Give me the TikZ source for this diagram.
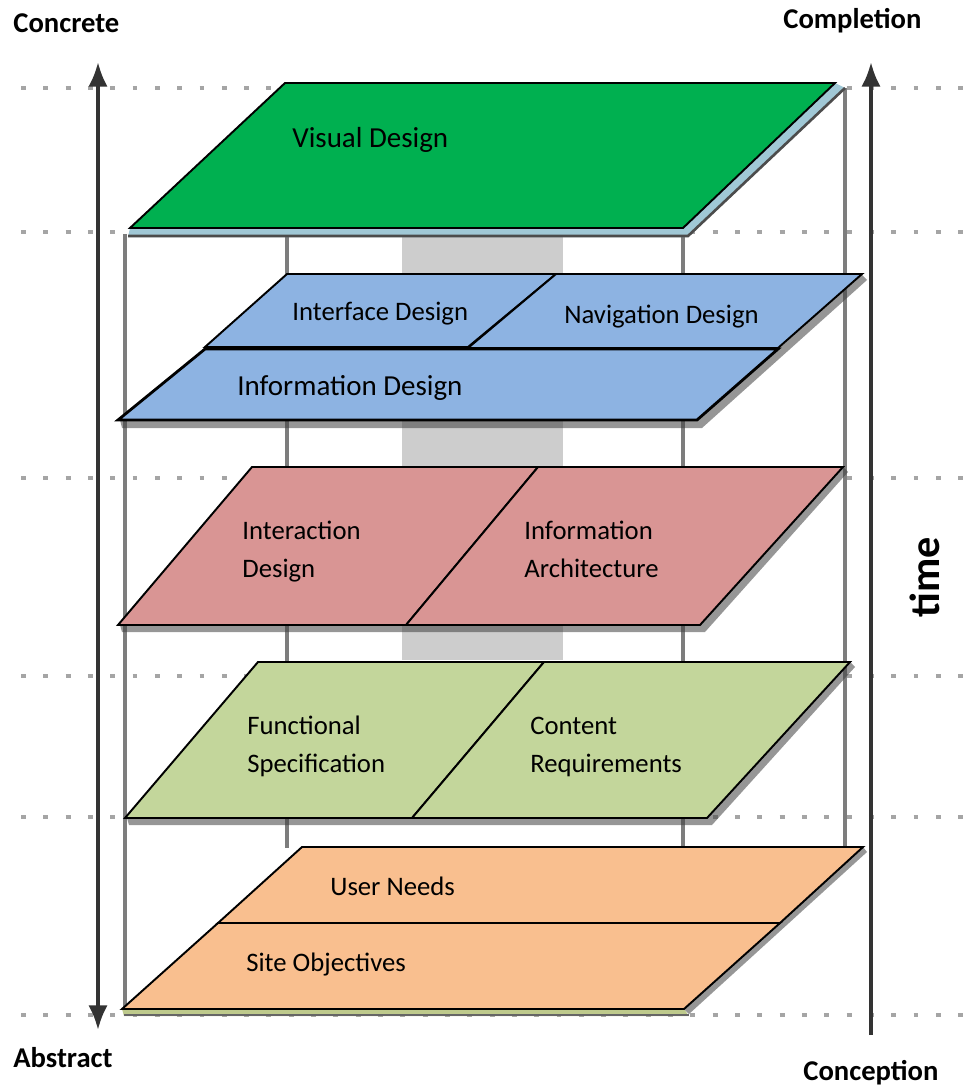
\documentclass[tikz,border=0pt]{standalone}
\usepackage{fontspec}
\setmainfont{Carlito}
\usepackage{tikz}
\usetikzlibrary{arrows.meta,positioning}
\definecolor{plgreen}{RGB}{0,176,80}
\definecolor{plblue}{RGB}{141,179,226}
\definecolor{plred}{RGB}{217,149,148}
\definecolor{plolive}{RGB}{195,214,155}
\definecolor{plorange}{RGB}{249,191,143}
\definecolor{plgrid}{RGB}{165,165,165}
\definecolor{plpost}{RGB}{125,125,125}
\definecolor{plband}{RGB}{205,205,205}
\definecolor{plice}{RGB}{160,200,214}
\definecolor{plmoss}{RGB}{190,202,140}
\tikzstyle{plane} = [draw=black, line width=1.1pt, line join=miter]
\tikzstyle{rim} = [fill=black!75, opacity=0.55]
\tikzstyle{planetext} = [anchor=base west, inner sep=0pt, align=left, font=\fontsize{15.2}{21.5}\selectfont]
\tikzstyle{bigtext} = [planetext, font=\fontsize{16.5}{21.5}\selectfont]
\tikzstyle{endtext} = [anchor=base west, inner sep=0pt, font=\fontsize{16.3}{20}\selectfont\bfseries]
\tikzstyle{axis} = [line width=2.2pt, color=black!80, >={Latex[length=14pt,width=11pt]}]
\tikzstyle{post} = [line width=1.8pt, color=plpost]
\tikzstyle{guide} = [line width=2.8pt, color=plgrid, dash pattern=on 2.8pt off 9.9pt]

\begin{document}
\begin{tikzpicture}[x=0.02cm, y=-0.02cm]
\useasboundingbox (0,0) rectangle (977,1088);

% Shaft behind the planes
\fill[plband] (402,236) rectangle (563,660);

% Level guides
\draw[guide] (21,88) -- (977,88);
\draw[guide] (21,232) -- (977,232);
\draw[guide] (21,478) -- (977,478);
\draw[guide] (21,676) -- (977,676);
\draw[guide] (21,817) -- (977,817);
\draw[guide] (21,1015) -- (977,1015);

% Frame posts
\draw[post] (125,234) -- (125,1012);
\draw[post] (287,88) -- (287,848);
\draw[post] (683,234) -- (683,1010);
\draw[post] (845,88) -- (845,848);

% Axes
\coordinate (abstractend) at (98,1030);
\coordinate (concreteend) at (98,62);
\coordinate (conceptionend) at (871,1035);
\coordinate (completionend) at (871,62);
\draw[axis, <->] (abstractend) -- (concreteend);
\draw[axis, ->] (conceptionend) -- (completionend);

% Surface plane
\fill[plice] (130,228) -- (683,228) -- (835,83) -- (845,88) -- (688,237) -- (128,237) -- cycle;
\draw[line width=1.5pt, black!70] (128,236) -- (688,236) -- (845,88);
\draw[plane, fill=plgreen] (130,228) -- (683,228) -- (835,83) -- (285,83) -- cycle;

% Skeleton plane
\fill[rim] (120,420) -- (697,420) -- (778,349) -- (862,275) -- (867,280) -- (702,428) -- (122,428) -- cycle;
\draw[plane, fill=plblue] (205,347) -- (468,347) -- (556,274) -- (287,274) -- cycle;
\draw[plane, fill=plblue] (468,348) -- (778,348) -- (862,274) -- (556,274) -- cycle;
\draw[plane, fill=plblue, line width=1.6pt] (118,420) -- (697,420) -- (778,349) -- (205,349) -- cycle;

% Structure plane
\fill[rim] (120,625) -- (700,625) -- (843,467) -- (848,472) -- (705,632) -- (122,632) -- cycle;
\draw[plane, fill=plred] (118,625) -- (406,625) -- (538,467) -- (252,467) -- cycle;
\draw[plane, fill=plred] (406,625) -- (700,625) -- (843,467) -- (538,467) -- cycle;

% Scope plane
\fill[rim] (127,818) -- (707,818) -- (850,662) -- (855,667) -- (712,825) -- (129,825) -- cycle;
\draw[plane, fill=plolive] (125,818) -- (412,818) -- (544,662) -- (258,662) -- cycle;
\draw[plane, fill=plolive] (412,818) -- (707,818) -- (850,662) -- (544,662) -- cycle;

% Strategy plane
\fill[plmoss] (122,1009) -- (684,1009) -- (689,1016) -- (124,1016) -- cycle;
\draw[line width=1.2pt, black!60] (124,1015) -- (689,1015);
\fill[rim] (684,1009) -- (780,923) -- (863,847) -- (867,852) -- (689,1014) -- cycle;
\draw[plane, fill=plorange] (218,923) -- (780,923) -- (863,847) -- (302,847) -- cycle;
\draw[plane, fill=plorange] (122,1009) -- (684,1009) -- (780,923) -- (218,923) -- cycle;

% Plane labels (base is the last line)
\node (visual) [bigtext] at (292,147) {Visual Design};
\node (interface) [planetext] at (292,320) {Interface Design};
\node (navigation) [planetext] at (564,323) {Navigation Design};
\node (infodesign) [bigtext] at (237,395) {Information Design};
\node (interaction) [planetext] at (242,577) {Interaction\\Design};
\node (infoarch) [planetext] at (524,577) {Information\\Architecture};
\node (functional) [planetext] at (247,772) {Functional\\Specification};
\node (content) [planetext] at (530,772) {Content\\Requirements};
\node (userneeds) [planetext] at (330,895) {User Needs};
\node (siteobj) [planetext] at (246,971) {Site Objectives};

% Axis labels
\node (concrete) [endtext] at (13,33) {Concrete};
\node (completion) [endtext] at (783,29) {Completion};
\node (abstract) [endtext] at (13,1067) {Abstract};
\node (conception) [endtext] at (803,1080) {Conception};
\node (time) [rotate=90, font=\fontsize{24}{28}\selectfont\bfseries] at (925,577) {time};
\end{tikzpicture}
\end{document}
